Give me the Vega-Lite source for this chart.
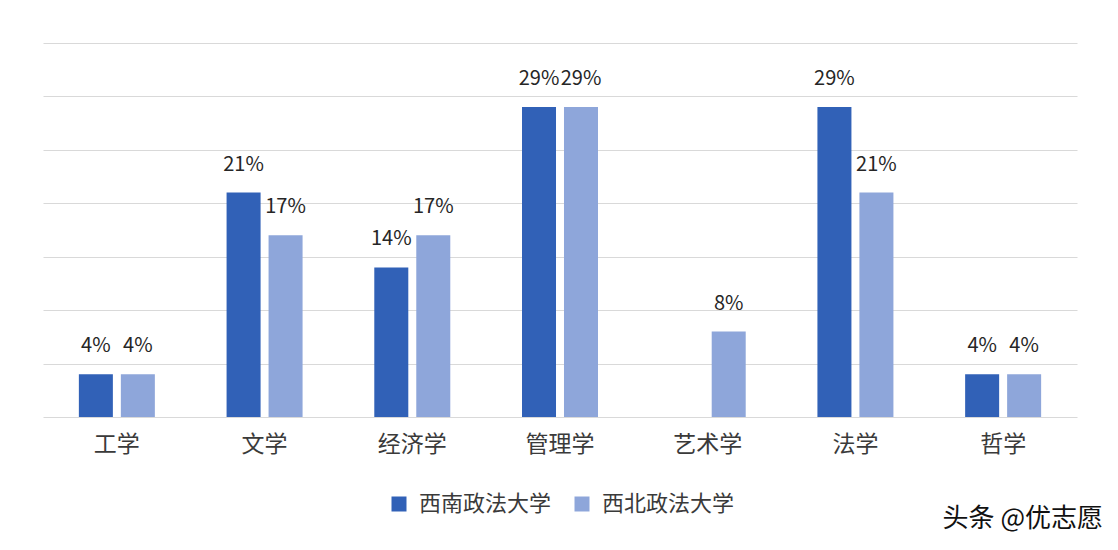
{
  "$schema": "https://vega.github.io/schema/vega-lite/v6.json",
  "width": 1034,
  "height": 374,
  "autosize": {"type": "none"},
  "padding": {"left": 43, "top": 43, "right": 41, "bottom": 133},
  "background": "#ffffff",
  "title": {
    "text": "头条 @优志愿",
    "orient": "bottom",
    "anchor": "end",
    "frame": "group",
    "font": "Noto Sans CJK SC",
    "fontSize": 26,
    "fontWeight": "normal",
    "color": "#111111",
    "offset": -9,
    "dx": 26
  },
  "data": {
    "values": [
      {"category": "工学", "school": "西南政法大学", "value": 0.04},
      {"category": "工学", "school": "西北政法大学", "value": 0.04},
      {"category": "文学", "school": "西南政法大学", "value": 0.21},
      {"category": "文学", "school": "西北政法大学", "value": 0.17},
      {"category": "经济学", "school": "西南政法大学", "value": 0.14},
      {"category": "经济学", "school": "西北政法大学", "value": 0.17},
      {"category": "管理学", "school": "西南政法大学", "value": 0.29},
      {"category": "管理学", "school": "西北政法大学", "value": 0.29},
      {"category": "艺术学", "school": "西北政法大学", "value": 0.08},
      {"category": "法学", "school": "西南政法大学", "value": 0.29},
      {"category": "法学", "school": "西北政法大学", "value": 0.21},
      {"category": "哲学", "school": "西南政法大学", "value": 0.04},
      {"category": "哲学", "school": "西北政法大学", "value": 0.04}
    ]
  },
  "encoding": {
    "x": {
      "field": "category",
      "type": "nominal",
      "sort": ["工学", "文学", "经济学", "管理学", "艺术学", "法学", "哲学"],
      "scale": {"paddingInner": 0.4855, "paddingOuter": 0.2428},
      "axis": {
        "title": null,
        "labelAngle": 0,
        "ticks": false,
        "domain": true,
        "domainColor": "#d9d9d9",
        "domainWidth": 1,
        "labelFont": "Noto Sans CJK SC",
        "labelFontSize": 23,
        "labelColor": "#3a3a3a",
        "labelPadding": 16
      }
    },
    "xOffset": {
      "field": "school",
      "type": "nominal",
      "sort": ["西南政法大学", "西北政法大学"],
      "scale": {"paddingInner": 0.19, "paddingOuter": 0}
    },
    "y": {
      "field": "value",
      "type": "quantitative",
      "scale": {"domain": [0, 0.35], "nice": false},
      "axis": {
        "title": null,
        "labels": false,
        "ticks": false,
        "domain": false,
        "values": [0.05, 0.1, 0.15, 0.2, 0.25, 0.3, 0.35],
        "gridColor": "#d9d9d9",
        "gridWidth": 1
      }
    }
  },
  "layer": [
    {
      "mark": {"type": "bar"},
      "encoding": {
        "color": {
          "field": "school",
          "type": "nominal",
          "sort": ["西南政法大学", "西北政法大学"],
          "scale": {"domain": ["西南政法大学", "西北政法大学"], "range": ["#3161b7", "#8ea6da"]},
          "legend": {
            "title": null,
            "orient": "none",
            "direction": "horizontal",
            "legendX": 345,
            "legendY": 450,
            "symbolType": "square",
            "symbolSize": 225,
            "symbolStrokeWidth": 0,
            "labelFont": "Noto Sans CJK SC",
            "labelFontSize": 22,
            "labelColor": "#3a3a3a",
            "labelOffset": 9,
            "columnPadding": 19
          }
        }
      }
    },
    {
      "mark": {
        "type": "text",
        "baseline": "alphabetic",
        "dy": -22,
        "font": "Noto Sans CJK SC",
        "fontSize": 20,
        "color": "#262626"
      },
      "encoding": {
        "text": {"field": "value", "type": "quantitative", "format": ".0%"}
      }
    }
  ],
  "config": {
    "view": {"stroke": null},
    "axis": {"gridColor": "#d9d9d9"}
  }
}
